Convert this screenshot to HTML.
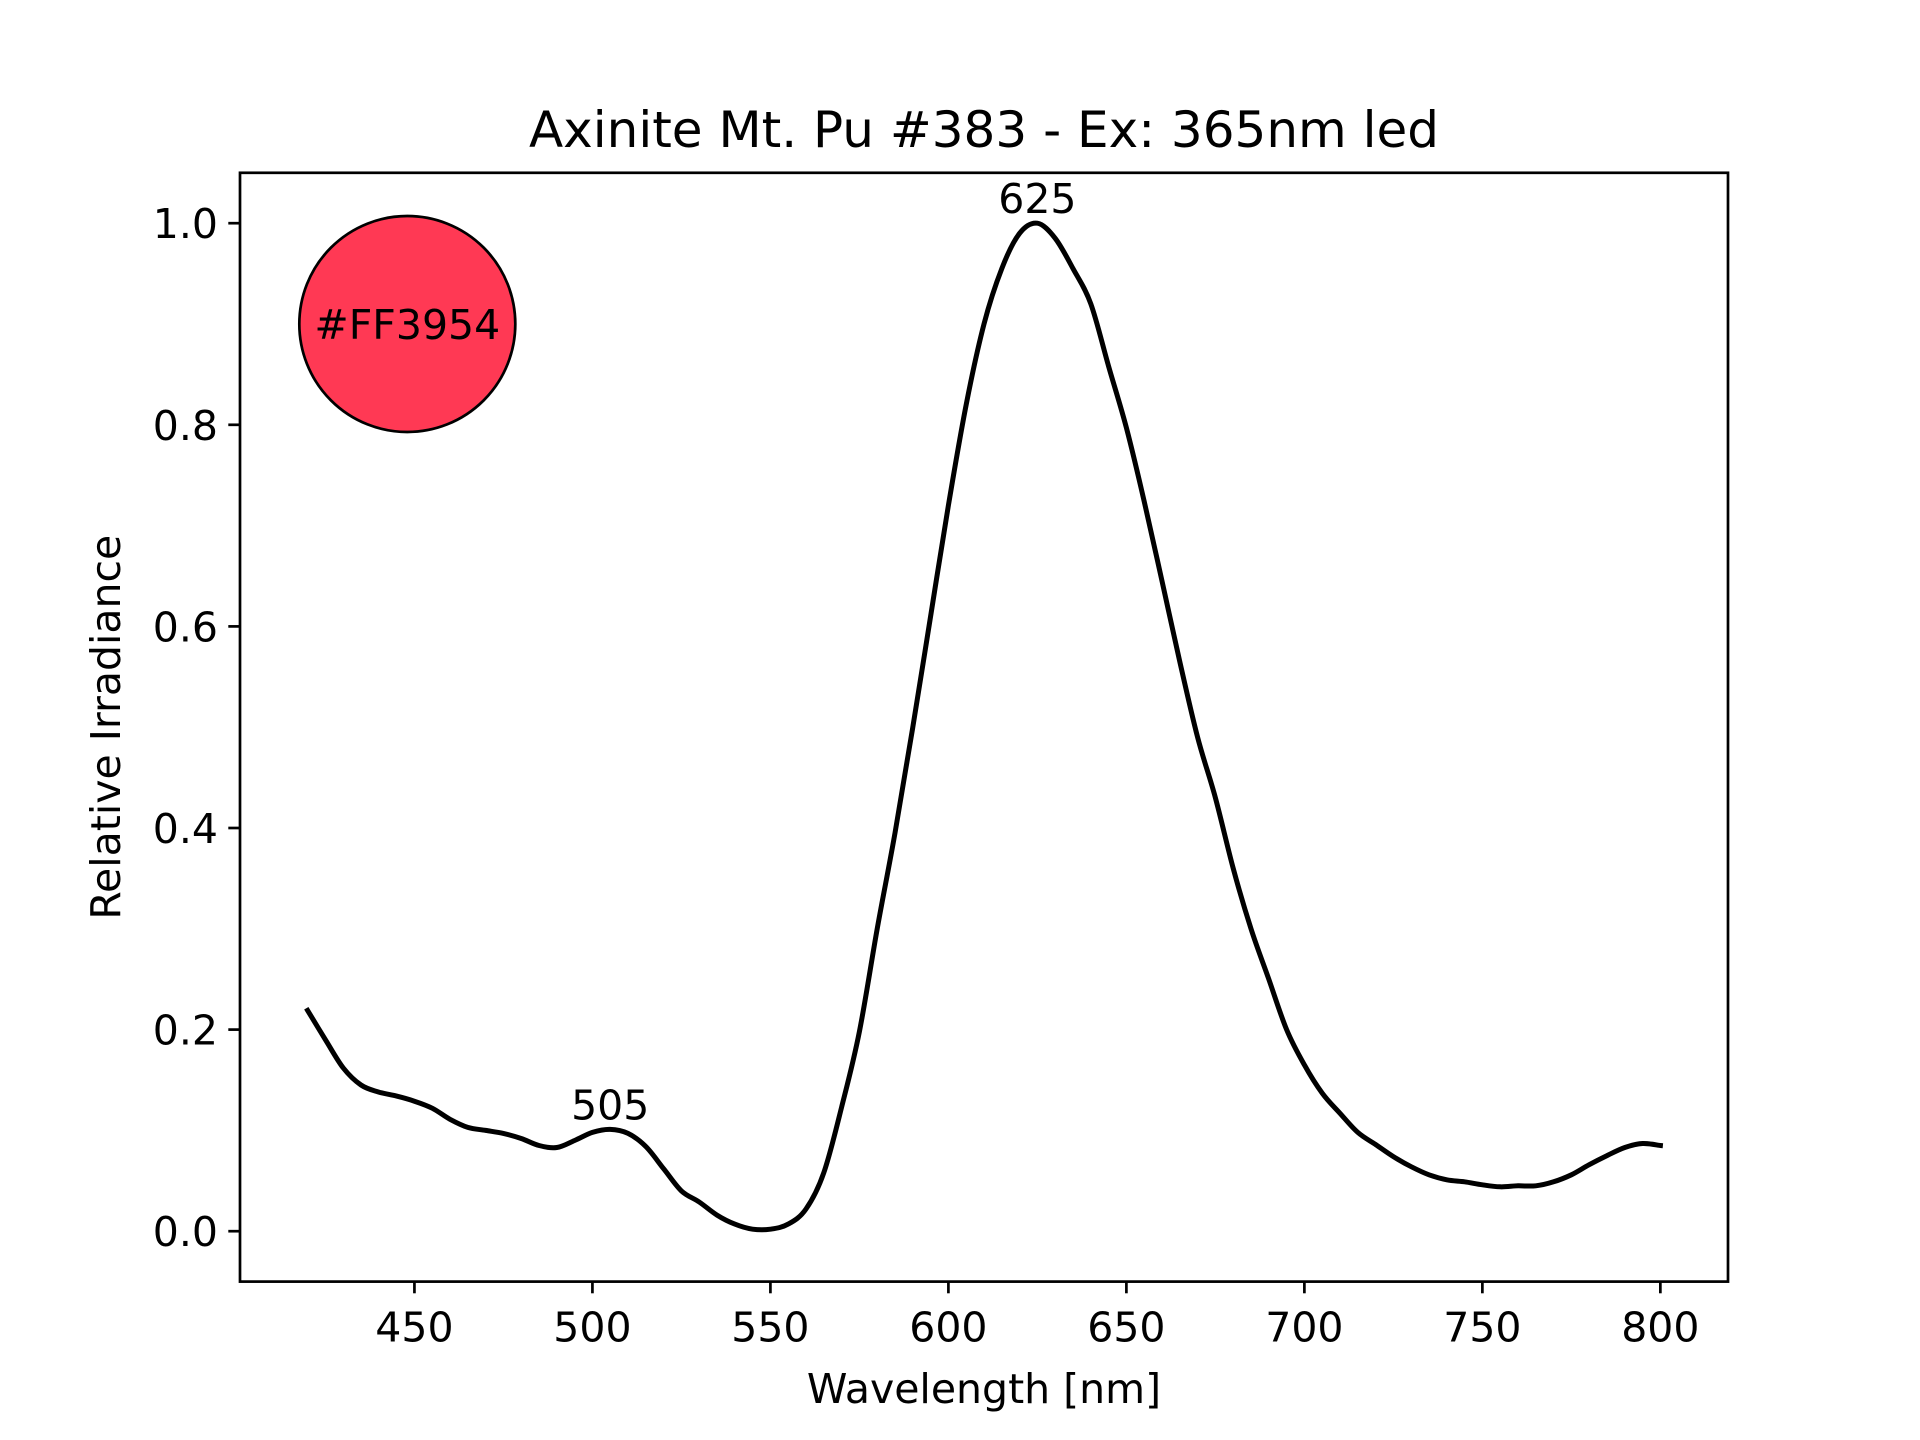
<!DOCTYPE html>
<html><head><meta charset="utf-8"><style>
html,body{margin:0;padding:0;background:#fff;}
svg{display:block;font-family:"DejaVu Sans","Liberation Sans",sans-serif;}
</style></head><body>
<svg id="chart" width="1920" height="1440" viewBox="0 0 1920 1440"></svg>
<script>
const wavelengths=[420,425,430,435,440,445,450,455,460,465,470,475,480,485,490,495,500,505,510,515,520,525,530,535,540,545,550,555,560,565,570,575,580,585,590,595,600,605,610,615,620,625,630,635,640,645,650,655,660,665,670,675,680,685,690,695,700,705,710,715,720,725,730,735,740,745,750,755,760,765,770,775,780,785,790,795,800];
const irradiance=[0.219,0.19,0.162,0.145,0.138,0.134,0.129,0.122,0.111,0.103,0.100,0.097,0.092,0.085,0.083,0.09,0.098,0.101,0.097,0.084,0.062,0.04,0.029,0.016,0.007,0.002,0.002,0.007,0.022,0.058,0.123,0.198,0.3,0.395,0.5,0.61,0.72,0.82,0.9,0.955,0.99,1.0,0.985,0.955,0.92,0.858,0.797,0.724,0.645,0.565,0.49,0.43,0.36,0.3,0.25,0.2,0.165,0.137,0.117,0.098,0.086,0.074,0.064,0.056,0.051,0.049,0.046,0.044,0.045,0.045,0.049,0.056,0.066,0.075,0.083,0.087,0.085];
const xTicks=[450,500,550,600,650,700,750,800];
const yTicks=[0.0,0.2,0.4,0.6,0.8,1.0];
const peakLabels=[505,625];
const peakValues=[0.101,1.0];
const colorHex="#FF3954";
const colorPos=[448,0.9];

const NS="http://www.w3.org/2000/svg";
const svg=document.getElementById('chart');
const L=240,R=1728,T=172.8,B=1281.6;
const xmin=401,xmax=819,ymin=-0.05,ymax=1.05;
const sx=v=>L+(v-xmin)/(xmax-xmin)*(R-L);
const sy=v=>B-(v-ymin)/(ymax-ymin)*(B-T);
function el(tag,attrs,parent){const e=document.createElementNS(NS,tag);for(const k in attrs)e.setAttribute(k,attrs[k]);(parent||svg).appendChild(e);return e;}

const title=el('text',{x:(L+R)/2,y:147,'text-anchor':'middle','font-size':50});
title.textContent="Axinite Mt. Pu #383 - Ex: 365nm led";



const pts=wavelengths.map((w,i)=>[sx(w),sy(irradiance[i])]);
let d='M'+pts[0][0].toFixed(1)+' '+pts[0][1].toFixed(1);
for(let i=0;i<pts.length-1;i++){
  const p0=pts[Math.max(0,i-1)],p1=pts[i],p2=pts[i+1],p3=pts[Math.min(pts.length-1,i+2)];
  const c1=[p1[0]+(p2[0]-p0[0])/6,p1[1]+(p2[1]-p0[1])/6];
  const c2=[p2[0]-(p3[0]-p1[0])/6,p2[1]-(p3[1]-p1[1])/6];
  d+=` C${c1[0].toFixed(1)} ${c1[1].toFixed(1)} ${c2[0].toFixed(1)} ${c2[1].toFixed(1)} ${p2[0].toFixed(1)} ${p2[1].toFixed(1)}`;
}
const line=el('path',{d:d,fill:'none',stroke:'#000','stroke-width':5,'stroke-linejoin':'round','stroke-linecap':'square'});



peakLabels.forEach((p,i)=>{
  const t=el('text',{x:sx(p),y:sy(peakValues[i])-10,'text-anchor':'middle','font-size':41});
  t.textContent=String(p);
  
  
});

const g=el('g',{});


el('circle',{cx:sx(colorPos[0]),cy:sy(colorPos[1]),r:108,fill:colorHex,stroke:'#000','stroke-width':2.7},g);
const ct=el('text',{x:sx(colorPos[0]),y:sy(colorPos[1])+15,'text-anchor':'middle','font-size':41},g);
ct.textContent=colorHex;



const frame=el('rect',{x:L,y:T,width:R-L,height:B-T,fill:'none',stroke:'#000','stroke-width':2.7});



xTicks.forEach(v=>{
  const x=sx(v);
  const tk=el('line',{x1:x,x2:x,y1:B,y2:B+11.7,stroke:'#000','stroke-width':2.7});
  
  
  const t=el('text',{x:x,y:B+60,'text-anchor':'middle','font-size':41});
  t.textContent=String(v);
  
  
});
yTicks.forEach(v=>{
  const y=sy(v);
  const tk=el('line',{x1:L-11.7,x2:L,y1:y,y2:y,stroke:'#000','stroke-width':2.7});
  
  
  const t=el('text',{x:L-22,y:y+15,'text-anchor':'end','font-size':41});
  t.textContent=v.toFixed(1);
  
  
});

const xl=el('text',{x:(L+R)/2,y:1403,'text-anchor':'middle','font-size':41});
xl.textContent="Wavelength [nm]";


const yl=el('text',{x:0,y:0,'text-anchor':'middle','font-size':41,transform:`translate(120,${(T+B)/2}) rotate(-90)`});
yl.textContent="Relative Irradiance";


</script>
</body></html>
